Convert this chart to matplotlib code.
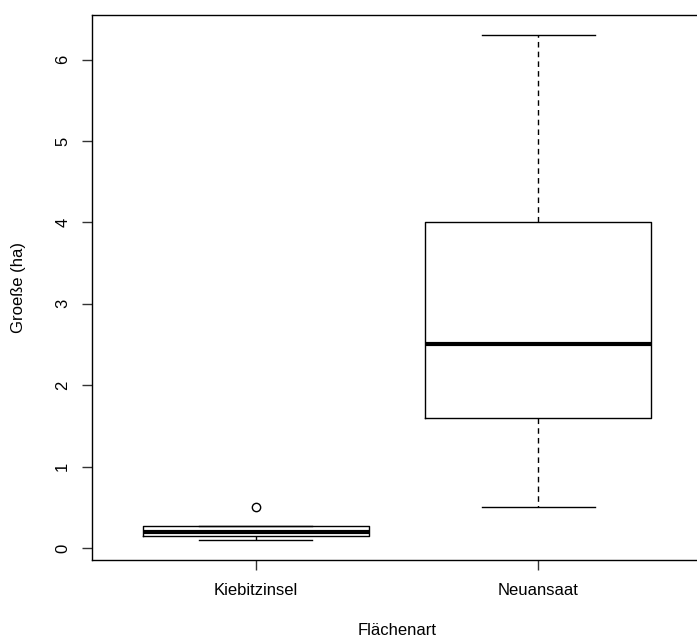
import matplotlib.pyplot as plt

plt.rcParams['font.family'] = ['Liberation Sans', 'DejaVu Sans']

# Kennwerte der beiden Flächenarten (ha)
labels = ['Kiebitzinsel', 'Neuansaat']
whisker_lo = [0.10, 0.5]
q1 = [0.15, 1.6]
median = [0.20, 2.5]
q3 = [0.27, 4.0]
whisker_hi = [0.27, 6.3]
outliers = [[0.5], []]

stats = []
for i in range(len(labels)):
    stats.append({
        'label': labels[i],
        'whislo': whisker_lo[i],
        'q1': q1[i],
        'med': median[i],
        'q3': q3[i],
        'whishi': whisker_hi[i],
        'fliers': outliers[i],
    })

fig = plt.figure(figsize=(6.97, 6.40), dpi=100)
# rechter Rand liegt knapp ausserhalb des Bildes
ax = fig.add_axes([0.1316, 0.125, 0.8756, 0.8516])

ax.bxp(
    stats,
    positions=[1, 2],
    widths=0.8,
    showfliers=True,
    boxprops=dict(color='black', linewidth=1),
    medianprops=dict(color='black', linewidth=3),
    whiskerprops=dict(color='black', linewidth=1, linestyle=(0, (4, 3))),
    capprops=dict(color='black', linewidth=1),
    capwidths=0.4,
    flierprops=dict(marker='o', markerfacecolor='none', markeredgecolor='black',
                    markersize=6, markeredgewidth=1),
)

ax.set_xlim(0.42, 2.58)
ax.set_ylim(-0.148, 6.548)
ax.set_yticks([0, 1, 2, 3, 4, 5, 6])
ax.set_xticks([1, 2])
ax.set_xticklabels(labels)

for spine in ax.spines.values():
    spine.set_color('black')
    spine.set_linewidth(1)

ax.tick_params(axis='both', length=7.5, width=1, color='#333333', labelsize=12)
ax.tick_params(axis='x', pad=9)
ax.tick_params(axis='y', pad=8)
for t in ax.get_yticklabels():
    t.set_rotation(90)
    t.set_va('center')

ax.set_xlabel('Flächenart', fontsize=12, labelpad=18)
ax.set_ylabel('Groeße (ha)', fontsize=12, labelpad=21)

fig.savefig('out.png', dpi=100)
